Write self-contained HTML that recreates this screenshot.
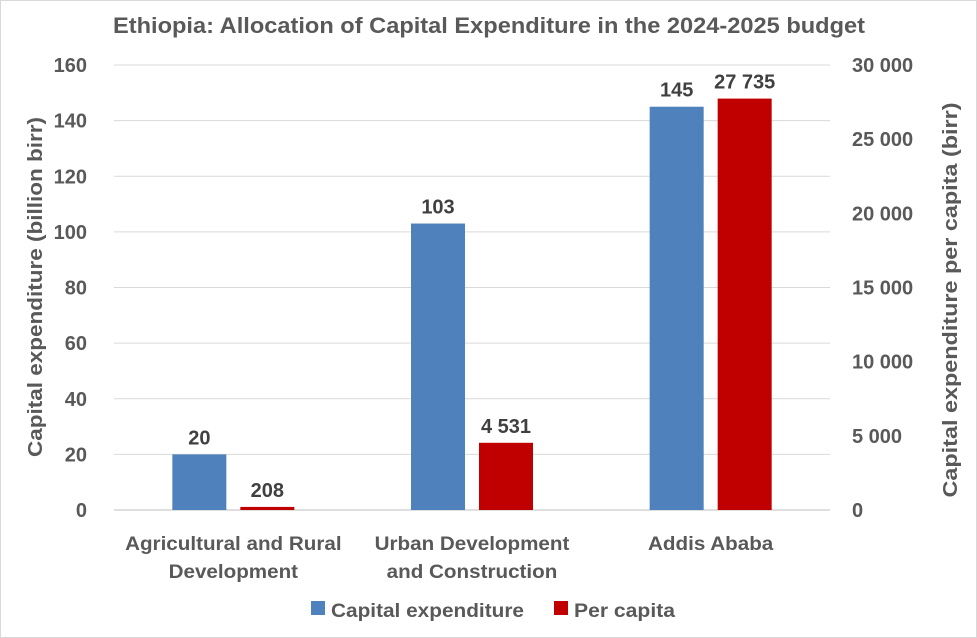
<!DOCTYPE html>
<html><head><meta charset="utf-8"><style>
body{margin:0;background:#fff;}
svg{display:block;font-family:"Liberation Sans",sans-serif;font-weight:bold;}
</style></head><body>
<svg id="c" width="977" height="638">
<rect x="0.5" y="0.5" width="976" height="637" fill="#fff" stroke="#d9d9d9"/>
<text x="113" y="33" textLength="752" lengthAdjust="spacingAndGlyphs" font-size="22" fill="#595959">Ethiopia:  Allocation of Capital Expenditure in the 2024-2025 budget</text>
<text transform="translate(42,287) rotate(-90)" text-anchor="middle" textLength="340" lengthAdjust="spacingAndGlyphs" font-size="20" fill="#595959">Capital expenditure (billion birr)</text>
<text transform="translate(957,300) rotate(-90)" text-anchor="middle" textLength="395" lengthAdjust="spacingAndGlyphs" font-size="20" fill="#595959">Capital expenditure per capita (birr)</text>
<g id="plot"></g>
<rect x="311" y="601" width="14" height="14" fill="#4f81bd"/>
<text x="331" y="617" textLength="193" lengthAdjust="spacingAndGlyphs" font-size="19" fill="#595959">Capital expenditure</text>
<rect x="554" y="601" width="14" height="14" fill="#c00000"/>
<text x="574" y="617" textLength="101" lengthAdjust="spacingAndGlyphs" font-size="19" fill="#595959">Per capita</text>
</svg>
<script>
const categories=[["Agricultural and Rural","Development"],["Urban Development","and Construction"],["Addis Ababa"]];
const capital=[20,103,145];
const perCapita=[208,4531,27735];
const capitalLabels=["20","103","145"];
const perCapitaLabels=["208","4 531","27 735"];
const leftTicks=[0,20,40,60,80,100,120,140,160];
const rightTicks=[0,5000,10000,15000,20000,25000,30000];
const rightTickLabels=["0","5 000","10 000","15 000","20 000","25 000","30 000"];
const X0=114,X1=830,Y0=510,Y1=65;
const yL=v=>Y0-(v/160)*(Y0-Y1);
const yR=v=>Y0-(v/30000)*(Y0-Y1);
const cw=(X1-X0)/categories.length;
const cx=i=>X0+cw*(i+0.5);
const g=document.getElementById('plot');
const NS='http://www.w3.org/2000/svg';
const SCALE=1.085;
function mk(t,a,txt){const e=document.createElementNS(NS,t);for(const k in a)e.setAttribute(k,a[k]);if(txt!==undefined)e.textContent=txt;g.appendChild(e);return e;}
function stretch(e){const w=e.getComputedTextLength();e.setAttribute('textLength',w*SCALE);e.setAttribute('lengthAdjust','spacingAndGlyphs');}
leftTicks.forEach(v=>{
  const l=mk('line',{x1:X0,x2:X1,y1:yL(v),y2:yL(v),stroke:v===0?'#bfbfbf':'#d9d9d9','stroke-width':1});
  
  
  const t=mk('text',{x:87,y:yL(v)+7,'text-anchor':'end','font-size':20,fill:'#595959'},String(v));
  
  
});
rightTicks.forEach((v,i)=>{
  const t=mk('text',{x:852,y:yR(v)+7,'text-anchor':'start','font-size':20,fill:'#595959'},rightTickLabels[i]);
  
  
});
const bw=54;
categories.forEach((c,i)=>{
  const bx=cx(i)-61, rx=cx(i)+7;
  const b=mk('rect',{x:bx,y:yL(capital[i]),width:bw,height:Y0-yL(capital[i]),fill:'#4f81bd'});
  
  
  const r=mk('rect',{x:rx,y:yR(perCapita[i]),width:bw,height:Y0-yR(perCapita[i]),fill:'#c00000'});
  
  
  const t1=mk('text',{x:bx+bw/2,y:yL(capital[i])-10,'text-anchor':'middle','font-size':20,fill:'#404040'},capitalLabels[i]);
  
  
  const t2=mk('text',{x:rx+bw/2,y:yR(perCapita[i])-10,'text-anchor':'middle','font-size':20,fill:'#404040'},perCapitaLabels[i]);
  
  
  c.forEach((line,j)=>{
    const t=mk('text',{x:cx(i),y:550+j*28,'text-anchor':'middle','font-size':19,fill:'#595959'},line);
    
    
    stretch(t);
  });
});
</script>
</body></html>
